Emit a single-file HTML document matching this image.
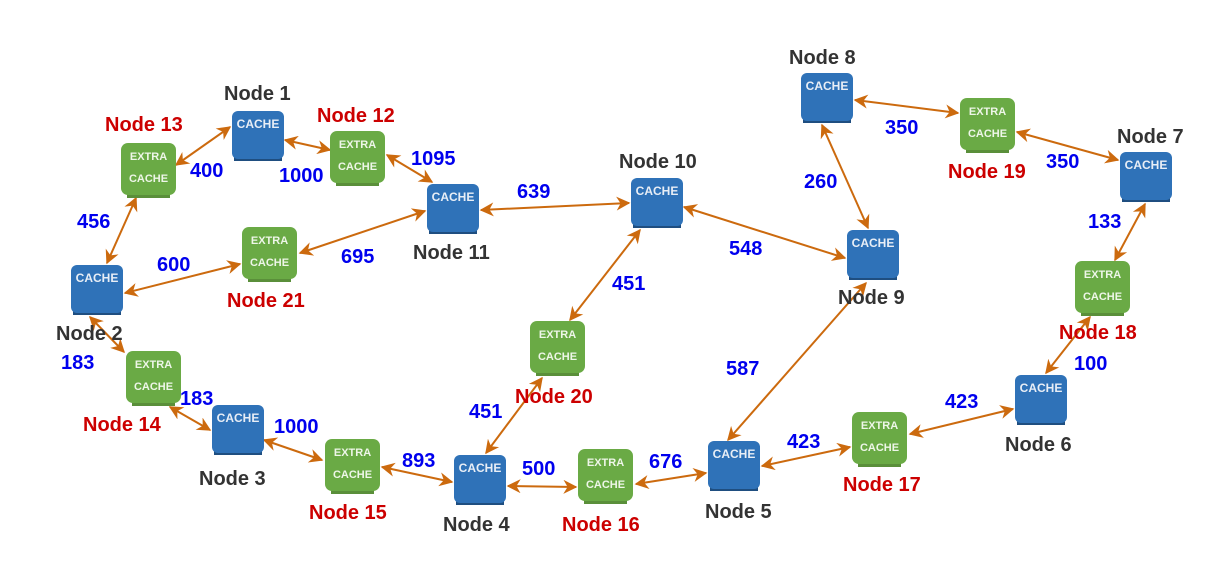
<!DOCTYPE html>
<html><head><meta charset="utf-8"><style>
body{margin:0;background:#fff;}
svg{display:block;font-family:"Liberation Sans",sans-serif;}
.b{fill:#2f72b8;}
.g{fill:#6aaa45;}
.bl{font-size:20px;font-weight:bold;fill:#0000ee;}
.dk{font-size:20px;font-weight:bold;fill:#333;}
.rd{font-size:20px;font-weight:bold;fill:#cc0000;}
.ct{font-size:12px;font-weight:bold;fill:#e8eef6;text-anchor:middle;}
.gt{font-size:11px;font-weight:bold;fill:#eef6e8;text-anchor:middle;}
line{stroke:#cc6a0e;stroke-width:2;marker-start:url(#a);marker-end:url(#a);}
</style></head><body>
<svg width="1228" height="571" viewBox="0 0 1228 571">
<defs><marker id="a" viewBox="0 0 10 10" refX="9" refY="5" markerWidth="8" markerHeight="7" orient="auto-start-reverse" markerUnits="strokeWidth"><path d="M0,0L10,5L0,10L3,5z" fill="#cc6a0e"/></marker>
<g id="B"><rect x="2" y="46" width="48" height="4" fill="#1f4e80"/><rect width="52" height="48" rx="6" class="b"/><text x="26" y="17" class="ct">CACHE</text></g>
<g id="G"><rect x="6" y="51" width="43" height="4" fill="#5a8f3a"/><rect width="55" height="52" rx="7" class="g"/><text x="27.5" y="17" class="gt">EXTRA</text><text x="27.5" y="39" class="gt">CACHE</text></g>
</defs>
<line x1="176" y1="165" x2="230" y2="127"/>
<line x1="285" y1="140" x2="330" y2="150"/>
<line x1="387" y1="155" x2="432" y2="182"/>
<line x1="136" y1="198" x2="107" y2="263"/>
<line x1="125" y1="293" x2="240" y2="264"/>
<line x1="300" y1="253" x2="425" y2="211"/>
<line x1="481" y1="210" x2="629" y2="203"/>
<line x1="684" y1="207" x2="845" y2="258"/>
<line x1="822" y1="125" x2="868" y2="228"/>
<line x1="855" y1="100" x2="958" y2="113"/>
<line x1="1017" y1="132" x2="1118" y2="160"/>
<line x1="1145" y1="204" x2="1115" y2="260"/>
<line x1="1090" y1="317" x2="1046" y2="373"/>
<line x1="1013" y1="409" x2="910" y2="434"/>
<line x1="850" y1="447" x2="762" y2="466"/>
<line x1="728" y1="440" x2="866" y2="283"/>
<line x1="706" y1="473" x2="636" y2="484"/>
<line x1="576" y1="487" x2="508" y2="486"/>
<line x1="486" y1="453" x2="542" y2="378"/>
<line x1="570" y1="320" x2="640" y2="230"/>
<line x1="452" y1="482" x2="382" y2="467"/>
<line x1="322" y1="460" x2="264" y2="440"/>
<line x1="210" y1="430" x2="170" y2="407"/>
<line x1="90" y1="317" x2="124" y2="352"/>
<use href="#B" x="232" y="111"/><use href="#B" x="427" y="184"/><use href="#B" x="631" y="178"/>
<use href="#B" x="801" y="73"/><use href="#B" x="1120" y="152"/><use href="#B" x="847" y="230"/>
<use href="#B" x="71" y="265"/><use href="#B" x="212" y="405"/><use href="#B" x="454" y="455"/>
<use href="#B" x="708" y="441"/><use href="#B" x="1015" y="375"/>
<use href="#G" x="121" y="143"/><use href="#G" x="330" y="131"/><use href="#G" x="242" y="227"/>
<use href="#G" x="960" y="98"/><use href="#G" x="1075" y="261"/><use href="#G" x="126" y="351"/>
<use href="#G" x="530" y="321"/><use href="#G" x="325" y="439"/><use href="#G" x="578" y="449"/>
<use href="#G" x="852" y="412"/>
<text x="224" y="100" class="dk">Node 1</text>
<text x="413" y="259" class="dk">Node 11</text>
<text x="619" y="168" class="dk">Node 10</text>
<text x="789" y="64" class="dk">Node 8</text>
<text x="1117" y="143" class="dk">Node 7</text>
<text x="838" y="304" class="dk">Node 9</text>
<text x="56" y="340" class="dk">Node 2</text>
<text x="199" y="485" class="dk">Node 3</text>
<text x="443" y="531" class="dk">Node 4</text>
<text x="705" y="518" class="dk">Node 5</text>
<text x="1005" y="451" class="dk">Node 6</text>
<text x="105" y="131" class="rd">Node 13</text>
<text x="317" y="122" class="rd">Node 12</text>
<text x="227" y="307" class="rd">Node 21</text>
<text x="948" y="178" class="rd">Node 19</text>
<text x="1059" y="339" class="rd">Node 18</text>
<text x="83" y="431" class="rd">Node 14</text>
<text x="515" y="403" class="rd">Node 20</text>
<text x="309" y="519" class="rd">Node 15</text>
<text x="562" y="531" class="rd">Node 16</text>
<text x="843" y="491" class="rd">Node 17</text>
<text x="190" y="177" class="bl">400</text>
<text x="279" y="182" class="bl">1000</text>
<text x="411" y="165" class="bl">1095</text>
<text x="77" y="228" class="bl">456</text>
<text x="157" y="271" class="bl">600</text>
<text x="341" y="263" class="bl">695</text>
<text x="517" y="198" class="bl">639</text>
<text x="729" y="255" class="bl">548</text>
<text x="804" y="188" class="bl">260</text>
<text x="885" y="134" class="bl">350</text>
<text x="1046" y="168" class="bl">350</text>
<text x="1088" y="228" class="bl">133</text>
<text x="1074" y="370" class="bl">100</text>
<text x="945" y="408" class="bl">423</text>
<text x="787" y="448" class="bl">423</text>
<text x="726" y="375" class="bl">587</text>
<text x="612" y="290" class="bl">451</text>
<text x="649" y="468" class="bl">676</text>
<text x="522" y="475" class="bl">500</text>
<text x="469" y="418" class="bl">451</text>
<text x="402" y="467" class="bl">893</text>
<text x="274" y="433" class="bl">1000</text>
<text x="180" y="405" class="bl">183</text>
<text x="61" y="369" class="bl">183</text>
</svg>
</body></html>
